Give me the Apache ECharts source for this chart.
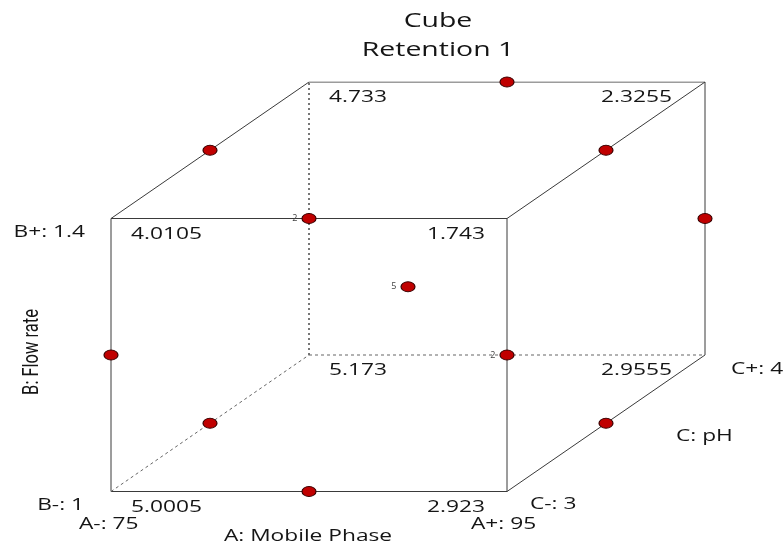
<!DOCTYPE html>
<html><head><meta charset="utf-8">
<script src="https://cdn.jsdelivr.net/npm/echarts@6/dist/echarts.min.js"></script>
<style>html,body{margin:0;padding:0;background:#fff}#c{width:784px;height:544px}</style>
</head><body><div id="c"></div>
<script>
// Factor levels
const aLevels = [75, 95];      // A: Mobile Phase
const bLevels = [1, 1.4];      // B: Flow rate
const cLevels = [3, 4];        // C: pH
// Corner predictions
const cornerA = [75, 95, 75, 95, 75, 95, 75, 95];
const cornerB = [1, 1, 1.4, 1.4, 1, 1, 1.4, 1.4];
const cornerC = [3, 3, 3, 3, 4, 4, 4, 4];
const cornerVal = ['5.0005', '2.923', '4.0105', '1.743', '5.173', '2.9555', '4.733', '2.3255'];
// Design points
const ptA = [85, 75, 95, 85, 75, 85, 95, 95, 75, 95, 85];
const ptB = [1, 1.2, 1.2, 1.4, 1.4, 1.4, 1.4, 1.2, 1, 1, 1.2];
const ptC = [3, 3, 3, 3, 3.5, 4, 3.5, 4, 3.5, 3.5, 3.5];
const ptCount = [1, 1, 2, 2, 1, 1, 1, 1, 1, 1, 5];
const titleText = ['Cube', 'Retention 1'];

function proj(a, b, c) {
  const an = (a - aLevels[0]) / (aLevels[1] - aLevels[0]);
  const bn = (b - bLevels[0]) / (bLevels[1] - bLevels[0]);
  const cn = (c - cLevels[0]) / (cLevels[1] - cLevels[0]);
  return [an + 0.5 * cn, bn + 0.5 * cn];
}
const A0 = aLevels[0], A1 = aLevels[1], B0 = bLevels[0], B1 = bLevels[1], C0 = cLevels[0], C1 = cLevels[1];
const solidEdges = [
  [[A0,B0,C0],[A1,B0,C0]], [[A1,B0,C0],[A1,B1,C0]], [[A1,B1,C0],[A0,B1,C0]], [[A0,B1,C0],[A0,B0,C0]],
  [[A0,B1,C0],[A0,B1,C1]], [[A1,B1,C0],[A1,B1,C1]], [[A1,B0,C0],[A1,B0,C1]],
  [[A0,B1,C1],[A1,B1,C1]], [[A1,B1,C1],[A1,B0,C1]]
];
const dashEdges = [
  [[A0,B0,C0],[A0,B0,C1]], [[A0,B0,C1],[A1,B0,C1]]
];
const dotEdges = [
  [[A0,B0,C1],[A0,B1,C1]]
];
const series = [];
function addEdges(list, type) {
  list.forEach(e => {
    series.push({
      type: 'line', data: [proj(...e[0]), proj(...e[1])], symbol: 'none', silent: true,
      lineStyle: { color: type === 'solid' ? '#3a3a3a' : '#666', width: type === 'dot' ? 1.8 : 1, type: type === 'solid' ? 'solid' : (type === 'dot' ? [2, 3] : [3, 3]) },
      z: 1
    });
  });
}
addEdges(solidEdges, 'solid');
addEdges(dashEdges, 'dash');
addEdges(dotEdges, 'dot');

// Design points
series.push({
  type: 'scatter', silent: true,
  data: ptA.map((a, i) => ({ value: proj(a, ptB[i], ptC[i]),
    label: { show: ptCount[i] > 1, formatter: String(ptCount[i]) } })),
  symbol: 'circle', symbolSize: [14, 10],
  itemStyle: { color: '#c00000', borderColor: '#3a0000', borderWidth: 1, opacity: 1 },
  label: { position: 'left', distance: 4, fontSize: 9, color: '#444', fontFamily: 'Open Sans' },
  z: 5
});

const chart = echarts.init(document.getElementById('c'), null, { renderer: 'canvas' });
const SX = 1.42;
const FF = 'Open Sans';
function t(x, y, text, size, align, extra) {
  return Object.assign({ type: 'text', x: x, y: y, scaleX: SX, z: 10,
    style: { text: text, fontSize: size, fill: '#151515', fontFamily: FF, align: align || 'left', verticalAlign: 'middle' } }, extra || {});
}
chart.setOption({
  animation: false,
  grid: { left: 111, top: 82, width: 594, height: 409.5 },
  xAxis: { type: 'value', min: 0, max: 1.5, show: false },
  yAxis: { type: 'value', min: 0, max: 1.5, show: false },
  series: series
});

const graphics = [
  t(438, 21, titleText[0], 20, 'center'),
  t(438, 50, titleText[1], 20, 'center'),
  t(85, 232, 'B+: 1.4', 16, 'right'),
  t(84, 505, 'B-: 1', 16, 'right'),
  t(79, 524, 'A-: 75', 16),
  t(471, 524, 'A+: 95', 16),
  t(530, 504, 'C-: 3', 16),
  t(731, 369, 'C+: 4', 16),
  t(676, 436, 'C: pH', 16),
  t(308, 536, 'A: Mobile Phase', 16, 'center'),
  { type: 'text', x: 32.5, y: 352, rotation: Math.PI / 2, scaleY: 1.3, z: 10,
    style: { text: 'B: Flow rate', fontSize: 16.5, fill: '#151515', fontFamily: 'Roboto', align: 'center', verticalAlign: 'middle' } }
];
cornerVal.forEach((v, i) => {
  const p = chart.convertToPixel({ gridIndex: 0 }, proj(cornerA[i], cornerB[i], cornerC[i]));
  const right = cornerA[i] === A1;
  let off = right ? [-22, 16] : [20, 16];
  if (cornerC[i] === C1) off = right ? [-33, 15] : [20, 15];
  graphics.push(t(p[0] + off[0], p[1] + off[1], v, 16, right ? 'right' : 'left'));
});
chart.setOption({ graphic: graphics });
</script></body></html>
